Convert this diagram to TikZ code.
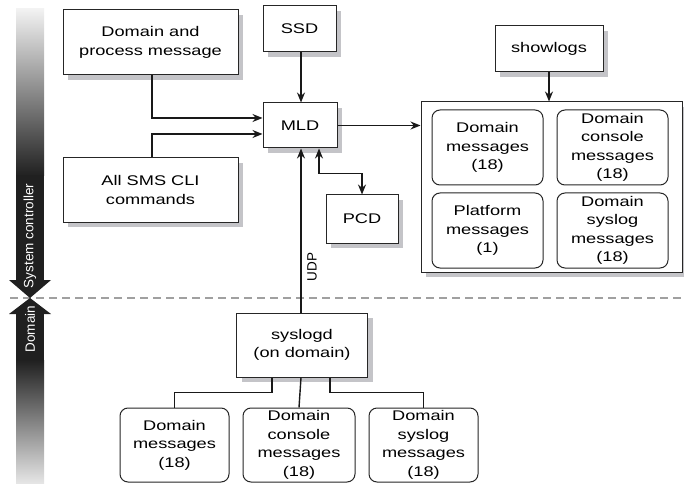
\documentclass[tikz,border=0pt]{standalone}
\usepackage{fontspec}
\setmainfont{Liberation Sans}[FakeStretch=1.3]
\newfontfamily\barfont{Liberation Sans}
\usetikzlibrary{arrows.meta,shadows}
\definecolor{shadowgray}{HTML}{C4C4C8}
\definecolor{dashgray}{HTML}{A0A0A0}
\definecolor{barblack}{HTML}{202020}
\begin{document}
\begin{tikzpicture}[x=1pt,y=-1pt,
  boxfont/.style={font=\fontsize{14}{18.5}\selectfont},
  box/.style={draw=black!85, line width=1pt, fill=white, inner sep=0pt, align=center, boxfont,
    drop shadow={shadow xshift=5pt, shadow yshift=-5pt, fill=shadowgray, opacity=1}},
  rbox/.style={draw=black!85, line width=1pt, rounded corners=8pt, fill=white, inner sep=0pt, align=center, boxfont},
  conn/.style={line width=1.4pt, draw=black!90},
  arr/.style={conn, -{Stealth[length=10pt,width=8pt]}},
  darr/.style={conn, {Stealth[length=10pt,width=8pt]}-{Stealth[length=10pt,width=8pt]}},
  bartext/.style={rotate=90, text=white, font=\barfont\fontsize{13.5}{14}\selectfont},
]
\useasboundingbox (0,0) rectangle (684,486);

% separator
\draw[dashgray, dash pattern=on 8pt off 5pt, line width=1.2pt] (10,298) -- (684,298);

% left bar
\shade[top color=black!5, bottom color=barblack] (16,9) rectangle (44,176);
\fill[barblack] (16,175) rectangle (44,281);
\fill[barblack] (9,280) -- (51,280) -- (30,298) -- cycle;
\fill[barblack] (30,298) -- (51,314) -- (9,314) -- cycle;
\fill[barblack] (16,313) rectangle (44,361);
\shade[top color=barblack, bottom color=black!10] (16,360) rectangle (44,483);
\node[bartext] (sc) at (30,236) {System controller};
\node[bartext] (dm) at (30,329) {Domain};

% boxes
\node[box, minimum width=175pt, minimum height=65pt] (dpm) at (150.5,42.5) {Domain and\\process message};
\node[box, minimum width=73pt, minimum height=46pt] (ssd) at (299.5,29) {SSD};
\node[box, minimum width=108pt, minimum height=46pt] (show) at (549,49) {showlogs};
\node[box, minimum width=74pt, minimum height=45pt] (mld) at (300,125.5) {MLD};
\node[box, minimum width=175pt, minimum height=64pt] (sms) at (150.5,190) {All SMS CLI\\commands};
\node[box, minimum width=72pt, minimum height=48pt] (pcd) at (362,219) {PCD};
\node[box, minimum width=261pt, minimum height=170pt] (big) at (551.5,187) {};
\node[rbox, minimum width=111pt, minimum height=75pt] (tl) at (487.5,147.5) {Domain\\messages\\(18)};
\node[rbox, minimum width=111pt, minimum height=75pt] (tr) at (612.5,147.5) {Domain\\console\\messages\\(18)};
\node[rbox, minimum width=111pt, minimum height=75pt] (bl) at (487.5,230.5) {Platform\\messages\\(1)};
\node[rbox, minimum width=111pt, minimum height=75pt] (br) at (612.5,230.5) {Domain\\syslog\\messages\\(18)};
\node[box, minimum width=131pt, minimum height=64pt] (sys) at (302,345) {syslogd\\(on domain)};
\node[rbox, minimum width=109pt, minimum height=74pt] (d1) at (174.5,445) {Domain\\messages\\(18)};
\node[rbox, minimum width=112pt, minimum height=74pt] (d2) at (299,445) {Domain\\console\\messages\\(18)};
\node[rbox, minimum width=109pt, minimum height=74pt] (d3) at (423.5,445) {Domain\\syslog\\messages\\(18)};

% connectors
\draw[arr] ([xshift=1.5pt]dpm.south) |- ([yshift=7.5pt]mld.west);
\draw[arr] ([xshift=1.5pt]sms.north) |- ([yshift=-8.5pt]mld.west);
\draw[arr] ([xshift=1.5pt]ssd.south) -- ([xshift=1pt]mld.north);
\draw[arr] (mld.east) -- (mld.east -| big.west);
\draw[arr] (show.south) -- (show.south |- big.north);
\draw[arr] ([xshift=-1pt]sys.north) -- ([xshift=1pt]mld.south);
\node[rotate=90, font=\barfont\fontsize{13.5}{14}\selectfont] (udp) at (312,267) {UDP};
\draw[darr] ([xshift=19pt]mld.south) -- ++(0,25) -| (pcd.north);
\draw[conn] ([xshift=-1pt]sys.south) -- (d2.north);
\draw[conn] ([xshift=-30pt]sys.south) -- ++(0,15) -| (d1.north);
\draw[conn] ([xshift=28pt]sys.south) -- ++(0,15) -| (d3.north);
\end{tikzpicture}
\end{document}
